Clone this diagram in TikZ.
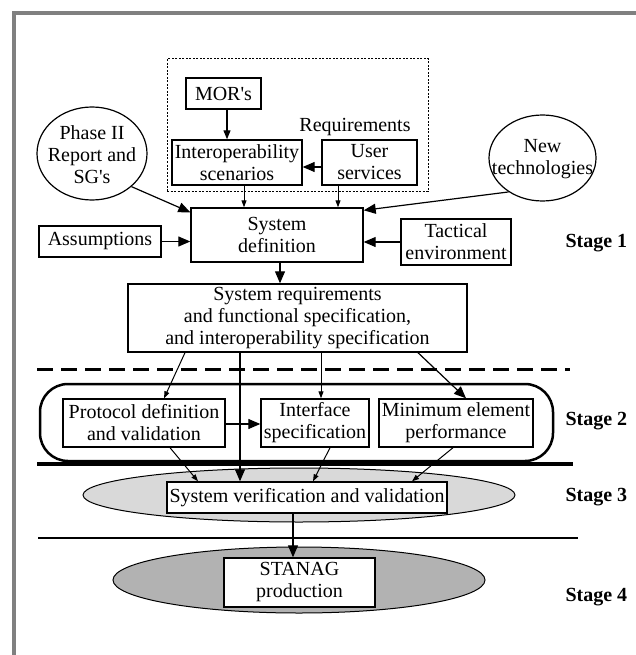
\documentclass[tikz,border=0pt]{standalone}
\usepackage{fontspec}
\setmainfont{Liberation Serif}
\usetikzlibrary{arrows.meta,shapes.geometric}
\begin{document}
\begin{tikzpicture}[x=1pt,y=-1pt,
  every node/.style={font=\fontsize{20}{22}\selectfont},
  box/.style={draw,line width=1.4pt,fill=white,align=center,inner sep=0pt},
  oval/.style={draw,ellipse,line width=1.2pt,inner sep=0pt},
  big/.style={line width=1.2pt,-{Triangle[length=12pt,width=10pt]}},
  mid/.style={line width=1.2pt,-{Triangle[length=9pt,width=7pt]}},
  small/.style={line width=1pt,-{Triangle[length=7pt,width=5pt]}},
  stage/.style={anchor=west,font=\fontsize{20}{22}\selectfont\bfseries}]
\useasboundingbox (0,0) rectangle (635,655);
\draw[gray,line width=4pt] (14,660) -- (14,13) -- (640,13);
% requirements group
\node[draw,line width=1pt,dash pattern=on 2pt off 1.5pt,minimum width=261pt,minimum height=132pt,inner sep=0pt] (rq) at (297.5,125) {};
\node[box,minimum width=75pt,minimum height=31pt] (mor) at (223.5,93.5) {MOR\textquotesingle s};
\node[box,minimum width=130pt,minimum height=45pt] (io) at (237,162.5) {Interoperability\\scenarios};
\node[box,minimum width=95pt,minimum height=45pt] (us) at (369.5,162.5) {User\\services};
\node (rl) at (355,127) {Requirements};
% stage 1
\node[oval,minimum width=110pt,minimum height=93pt] (ph) at (92,153.5) {};
\node[align=center,inner sep=0pt] (pht) at (92,155) {Phase II\\Report and\\SG\textquotesingle s};
\node[oval,minimum width=107pt,minimum height=86pt] (nt) at (542.5,158) {};
\node[align=center,inner sep=0pt] (ntt) at (542.5,159) {New\\technologies};
\node[box,minimum width=172pt,minimum height=54pt] (sd) at (277,235) {System\\definition};
\node[box,minimum width=122pt,minimum height=31pt] (as) at (100,241.5) {Assumptions};
\node[box,minimum width=110pt,minimum height=46pt] (te) at (456,242) {Tactical\\environment};
\node[stage] (s1) at (562,243) {Stage 1};
\node[box,minimum width=339pt,minimum height=68pt] (sr) at (297.5,318) {System requirements\\and functional specification,\\and interoperability specification};
\draw[line width=3pt,dash pattern=on 16pt off 8pt] (37,369) -- (570,369);
% stage 2
\node[draw,line width=2.5pt,rounded corners=28pt,minimum width=513pt,minimum height=77pt,inner sep=0pt] (s2) at (296.5,422.5) {};
\node[box,minimum width=162pt,minimum height=48pt] (pd) at (144,423) {Protocol definition\\and validation};
\node[box,minimum width=108pt,minimum height=48pt] (is) at (315,423) {Interface\\specification};
\node[box,minimum width=154pt,minimum height=48pt] (me) at (456,423) {Minimum element\\performance};
\node[stage] (s2l) at (562,421) {Stage 2};
\draw[line width=4pt] (37,464) -- (573,464);
% stage 3
\node[draw,ellipse,fill=black!15,line width=1pt,minimum width=432pt,minimum height=54pt,inner sep=0pt] (e3) at (299,495) {};
\node[box,minimum width=280pt,minimum height=31pt] (sv) at (307,497.5) {System verification and validation};
\node[stage] (s3l) at (562,497) {Stage 3};
\draw[line width=2.8pt] (38,538) -- (578,538);
% stage 4
\node[draw,ellipse,fill=black!30,line width=1pt,minimum width=372pt,minimum height=66pt,inner sep=0pt] (e4) at (299,580) {};
\node[box,minimum width=151pt,minimum height=49pt] (st) at (299.5,582.5) {STANAG\\production};
\node[stage] (s4l) at (562,597) {Stage 4};
% connectors
\draw[mid] (227,0 |- mor.south) -- (227,0 |- io.north);
\draw[big] (us.west |- 0,167) -- (io.east |- 0,167);
\draw[small] (244,0 |- io.south) -- (244,0 |- sd.north);
\draw[small] (338,0 |- us.south) -- (338,0 |- sd.north);
\draw[big] (ph.-40) -- ([yshift=-5pt]sd.north west);
\draw[big] (as) -- (as -| sd.west);
\draw[big] (nt.225) -- ([yshift=-3pt]sd.north east);
\draw[big] (te) -- (te -| sd.east);
\draw[big] (280,0 |- sd.south) -- (280,0 |- sr.north);
\draw[small] (185,0 |- sr.south) -- (164,0 |- pd.north);
\draw[big] (240,0 |- sr.south) -- (240,0 |- sv.north);
\draw[small] (321,0 |- sr.south) -- (321,0 |- is.north);
\draw[big] (418,0 |- sr.south) -- (466,0 |- me.north);
\draw[big] (pd.east |- 0,424) -- (is.west |- 0,424);
\draw[small] (170,0 |- pd.south) -- (198,0 |- sv.north);
\draw[small] (330,0 |- is.south) -- (313,0 |- sv.north);
\draw[small] (453,0 |- me.south) -- (412,0 |- sv.north);
\draw[big] (293,0 |- sv.south) -- (293,0 |- st.north);
\end{tikzpicture}
\end{document}
